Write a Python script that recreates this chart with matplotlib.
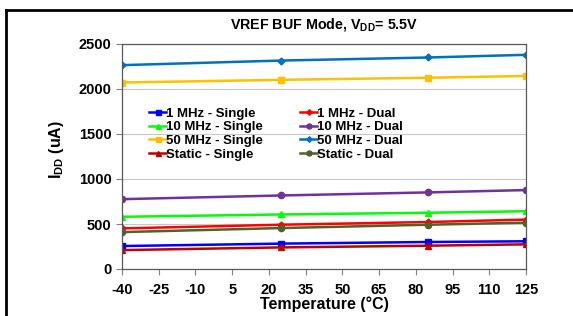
import numpy as np
import matplotlib
matplotlib.use('Agg')
import matplotlib.pyplot as plt

plt.rcParams['font.family'] = ['Liberation Sans', 'DejaVu Sans']
plt.rcParams['font.weight'] = 'bold'
plt.rcParams['axes.unicode_minus'] = False
plt.rcParams['mathtext.fontset'] = 'custom'
plt.rcParams['mathtext.bf'] = 'Liberation Sans:bold'
plt.rcParams['mathtext.rm'] = 'Liberation Sans:bold'

# data
Temps = [-40, 25, 85, 125]
Labels = ['1 MHz - Single', '1 MHz - Dual', '10 MHz - Single', '10 MHz - Dual',
          '50 MHz - Single', '50 MHz - Dual', 'Static - Single', 'Static - Dual']
OneMHzSingle = [255, 282, 300, 308]
OneMHzDual = [451, 492, 522, 549]
TenMHzSingle = [580, 606, 625, 642]
TenMHzDual = [776, 817, 851, 877]
FiftyMHzSingle = [2072, 2102, 2125, 2145]
FiftyMHzDual = [2265, 2316, 2350, 2380]
StaticSingle = [210, 240, 259, 274]
StaticDual = [410, 455, 492, 515]
XTicks = [-40, -25, -10, 5, 20, 35, 50, 65, 80, 95, 110, 125]
YTicks = [0, 500, 1000, 1500, 2000, 2500]

Series = [OneMHzSingle, OneMHzDual, TenMHzSingle, TenMHzDual,
          FiftyMHzSingle, FiftyMHzDual, StaticSingle, StaticDual]
Colors = ['#0000FF', '#FF0000', '#00FF00', '#7030A0', '#FFC000', '#0070C0', '#C00000', '#4F6228']
Markers = ['s', 'D', '^', 'o', 's', 'D', '^', 'o']
MSizes = [4.5, 3.5, 4.5, 4.5, 4.5, 3.5, 4.5, 4.5]

fig = plt.figure(figsize=(5.73, 3.16), dpi=100)
ax = fig.add_axes([122 / 573, 1 - 269 / 316, 404 / 573, 225 / 316])

# outer chart frame (cropped on right/bottom)
fig.add_artist(plt.Line2D([6 / 573, 6 / 573], [0, 1 - 10 / 316], transform=fig.transFigure, color='black', lw=2))
fig.add_artist(plt.Line2D([6 / 573, 1], [1 - 10 / 316, 1 - 10 / 316], transform=fig.transFigure, color='black', lw=2))

Handles = []
for S, L, C, M, Ms in zip(Series, Labels, Colors, Markers, MSizes):
    H, = ax.plot(Temps, S, color=C, marker=M, markersize=Ms, lw=1.8, label=L)
    Handles.append(H)

ax.set_xlim(-40, 125)
ax.set_ylim(0, 2500)
ax.set_xticks(XTicks)
ax.set_yticks(YTicks)
ax.tick_params(axis='both', labelsize=10.5, color='#808080', length=4, width=0.8)
ax.tick_params(axis='x', pad=6)
for L in ax.get_xticklabels() + ax.get_yticklabels():
    L.set_fontweight('bold')
ax.grid(axis='y', color='#C8C8C8', lw=0.8)
ax.set_axisbelow(True)
for Sp in ax.spines.values():
    Sp.set_color('#595959')
    Sp.set_linewidth(0.9)

ax.set_title(r'VREF BUF Mode, $\mathbf{V_{DD}}$= 5.5V', fontsize=10.3, fontweight='bold', pad=11)
ax.set_xlabel('Temperature (°C)', fontsize=11.5, fontweight='bold', labelpad=0)
ax.set_ylabel(r'$\mathbf{I_{DD}}$ (uA)', fontsize=11.5, fontweight='bold')
ax.yaxis.set_label_coords(-0.139, 0.53)

# legend fills row-wise in the reference: left column = Single, right = Dual
Order = [0, 2, 4, 6, 1, 3, 5, 7]
ax.legend([Handles[i] for i in Order], [Labels[i] for i in Order],
          loc='upper left', bbox_to_anchor=(0.067, 0.717), ncol=2, frameon=False,
          handlelength=1.3, handletextpad=0.0, labelspacing=0.1,
          columnspacing=2.8, borderaxespad=0, borderpad=0, markerscale=0.8,
          prop={'weight': 'bold', 'size': 9.5})

fig.savefig('out.png', dpi=100)
